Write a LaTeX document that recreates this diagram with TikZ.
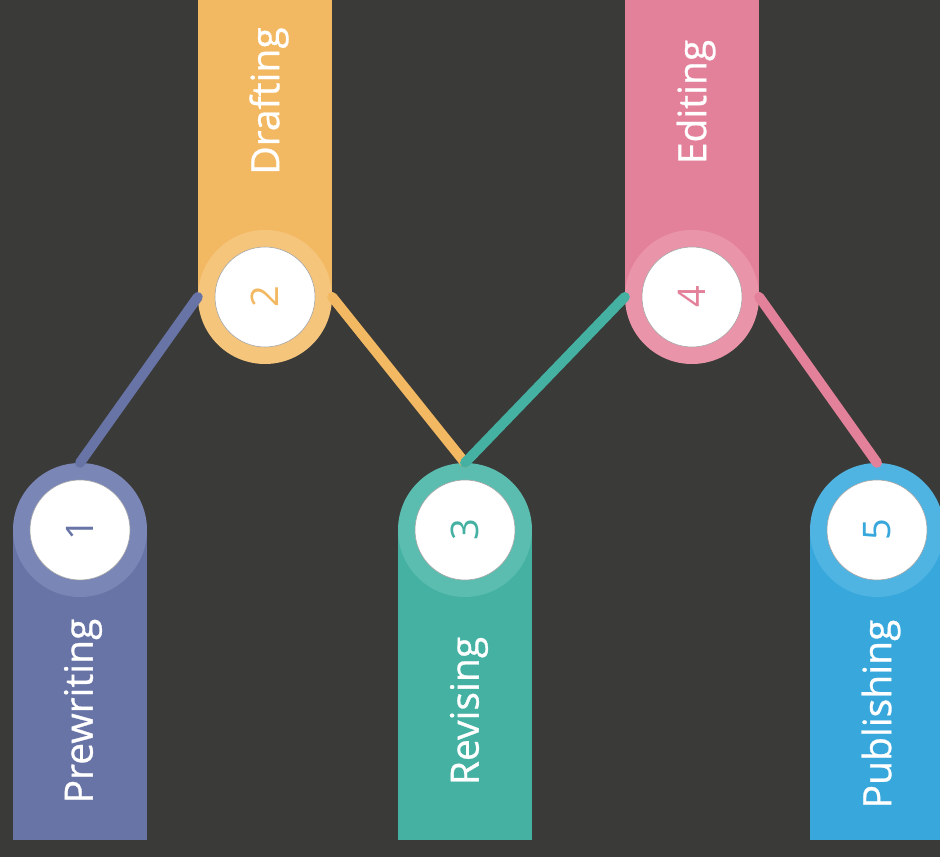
\documentclass[tikz,border=0pt]{standalone}
\usepackage{fontspec}
\setmainfont{Open Sans}
\usetikzlibrary{calc}
\definecolor{bgdark}{HTML}{3A3A38}
\definecolor{prewcol}{HTML}{6874A6}
\definecolor{prewhalo}{HTML}{7A86B6}
\definecolor{draftcol}{HTML}{F3B862}
\definecolor{drafthalo}{HTML}{F6C57C}
\definecolor{revcol}{HTML}{44B1A2}
\definecolor{revhalo}{HTML}{5BBDB0}
\definecolor{editcol}{HTML}{E4819A}
\definecolor{edithalo}{HTML}{EA94A9}
\definecolor{pubcol}{HTML}{38A8DC}
\definecolor{pubhalo}{HTML}{4FB4E2}
\tikzset{
  halo/.style={circle, minimum size=134pt, inner sep=0pt, fill=#1},
  numdisc/.style={circle, minimum size=100pt, inner sep=0pt, fill=white, draw=black!35, line width=0.6pt, text=#1, font=\fontsize{38}{38}\selectfont, rotate=90},
  stagetext/.style={text=white, inner sep=0pt, font=\fontsize{39}{39}\selectfont\addfontfeature{FakeBold=0.7}, rotate=90},
  link/.style={line width=10pt, line cap=round, draw=#1},
}

\begin{document}
\begin{tikzpicture}[x=1pt, y=1pt]
		%%%%% START %%%%%
		\fill[bgdark] (0, 0) rectangle (940, 857);
		\useasboundingbox (0, 0) rectangle (940, 857);
		\clip (0, 0) rectangle (940, 857);
		
		% lower bars
		\fill[prewcol] (13, 327) rectangle (147, 17);
		\node[halo=prewhalo] (s1) at (80, 327) {};
		
		\fill[revcol] (398, 327) rectangle (532, 17);
		\node[halo=revhalo] (s3) at (465, 327) {};
		
		\fill[pubcol] (810, 327) rectangle (944, 17);
		\node[halo=pubhalo] (s5) at (877, 327) {};
		
		% upper bars
		\fill[draftcol] (198, 560) rectangle (332, 880);
		\node[halo=drafthalo] (s2) at (265, 560) {};
		
		\fill[editcol] (625, 560) rectangle (759, 880);
		\node[halo=edithalo] (s4) at (692, 560) {};
		
		% links
		\draw[link=prewcol] (s1.north) -- (s2.west);
		\draw[link=draftcol] (s2.east) -- (s3.north);
		\draw[link=revcol] (s3.north) -- (s4.west);
		\draw[link=editcol] (s4.east) -- (s5.north);
		
		% numbers
		\node[numdisc=prewcol] (n1) at (s1) {1};
		\node[numdisc=draftcol] (n2) at (s2) {2};
		\node[numdisc=revcol] (n3) at (s3) {3};
		\node[numdisc=editcol] (n4) at (s4) {4};
		\node[numdisc=pubcol] (n5) at (s5) {5};
		
		% labels
		\node[stagetext] (t1) at (83, 146) {Prewriting};
		\node[stagetext] (t2) at (269, 756) {Drafting};
		\node[stagetext] (t3) at (469, 146) {Revising};
		\node[stagetext] (t4) at (696, 755) {Editing};
		\node[stagetext] (t5) at (881, 143) {Publishing};
		%%%%% END %%%%%
	\end{tikzpicture}
\end{document}
